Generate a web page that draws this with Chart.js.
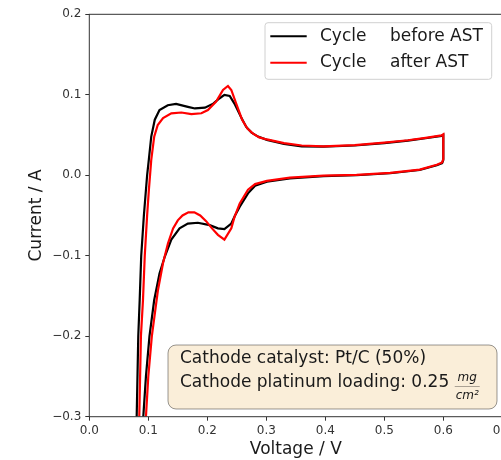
<!DOCTYPE html>
<html>
<head>
<meta charset="utf-8">
<script src="https://cdn.jsdelivr.net/npm/chart.js@4.4.0/dist/chart.umd.min.js"></script>
<style>
html, body { margin: 0; padding: 0; background: #fff; }
#wrap { width: 501px; height: 460px; overflow: hidden; }
canvas { display: block; }
</style>
</head>
<body>
<div id="wrap"><canvas id="cvChart" width="540" height="460"></canvas></div>
<script>
// cyclic voltammograms, voltage in V and current in A
var beforeV = [0.0803, 0.0830, 0.0854, 0.0880, 0.0925, 0.0980, 0.1010, 0.1050, 0.1110, 0.1190,
               0.1330, 0.1470, 0.1670, 0.1790, 0.1960, 0.2100, 0.2210, 0.2290, 0.2380, 0.2460,
               0.2580, 0.2660, 0.2750, 0.2860, 0.3010, 0.3300, 0.3600, 0.3970, 0.4500, 0.5000,
               0.5400, 0.5700, 0.5970, 0.6000, 0.6000, 0.5980, 0.5890, 0.5600, 0.5100, 0.4530,
               0.3970, 0.3400, 0.3010, 0.2810, 0.2690, 0.2550, 0.2470, 0.2407, 0.2290, 0.2180,
               0.2040, 0.1840, 0.1670, 0.1530, 0.1390, 0.1280, 0.1190, 0.1100, 0.1020, 0.0960,
               0.0915];
var beforeI = [-0.300, -0.200, -0.155, -0.100, -0.050, 0.000, 0.020, 0.048, 0.069, 0.081,
               0.087, 0.0886, 0.085, 0.083, 0.084, 0.089, 0.0957, 0.0998, 0.0985, 0.089,
               0.071, 0.060, 0.053, 0.048, 0.044, 0.039, 0.036, 0.0355, 0.037, 0.040,
               0.043, 0.046, 0.049, 0.050, 0.019, 0.015, 0.0125, 0.0065, 0.0025, 0.000,
               -0.001, -0.004, -0.008, -0.013, -0.0225, -0.039, -0.050, -0.060, -0.067, -0.066,
               -0.062, -0.059, -0.060, -0.066, -0.080, -0.101, -0.122, -0.155, -0.200, -0.250,
               -0.300];

var afterV = [0.0847, 0.0875, 0.0910, 0.0940, 0.0980, 0.1010, 0.1050, 0.1100, 0.1160, 0.1250,
              0.1390, 0.1560, 0.1730, 0.1900, 0.2010, 0.2150, 0.2266, 0.2350, 0.2407, 0.2490,
              0.2590, 0.2680, 0.2770, 0.2880, 0.3010, 0.3300, 0.3600, 0.3970, 0.4500, 0.5000,
              0.5400, 0.5700, 0.5970, 0.6000, 0.6000, 0.5980, 0.5890, 0.5600, 0.5100, 0.4530,
              0.3970, 0.3400, 0.3010, 0.2810, 0.2690, 0.2550, 0.2460, 0.2407, 0.2290, 0.2180,
              0.2080, 0.1980, 0.1880, 0.1780, 0.1680, 0.1580, 0.1500, 0.1420, 0.1334, 0.1250,
              0.1164, 0.1060, 0.1000, 0.0960];
var afterI = [-0.300, -0.200, -0.155, -0.100, -0.050, -0.018, 0.019, 0.048, 0.0625, 0.071,
              0.077, 0.078, 0.076, 0.077, 0.081, 0.0915, 0.106, 0.111, 0.106, 0.089,
              0.069, 0.058, 0.052, 0.047, 0.0445, 0.040, 0.037, 0.036, 0.0375, 0.0405,
              0.0435, 0.0465, 0.0495, 0.051, 0.020, 0.016, 0.013, 0.007, 0.003, 0.0005,
              -0.0005, -0.003, -0.007, -0.011, -0.018, -0.035, -0.052, -0.066, -0.080, -0.074,
              -0.066, -0.057, -0.050, -0.046, -0.046, -0.050, -0.056, -0.066, -0.0845, -0.109,
              -0.1425, -0.200, -0.250, -0.300];

var seriesLabels = ['Cycle before AST', 'Cycle after AST'];
var seriesColors = ['#000000', '#ff0000'];
var xTicks = [0.0, 0.1, 0.2, 0.3, 0.4, 0.5, 0.6, 0.7];
var yTicks = [-0.3, -0.2, -0.1, 0.0, 0.1, 0.2];
var noteLines = ['Cathode catalyst: Pt/C (50%)', 'Cathode platinum loading: 0.25'];

var FONT = "'DejaVu Sans', sans-serif";

function toPoints(vs, is) {
    return vs.map(function (v, k) { return {x: v, y: is[k]}; });
}

function fmtTick(value) {
    return value.toFixed(1).replace('-', '\u2212');
}

function roundRect(ctx, x, y, w, h, r) {
    ctx.beginPath();
    ctx.moveTo(x + r, y);
    ctx.lineTo(x + w - r, y);
    ctx.arcTo(x + w, y, x + w, y + r, r);
    ctx.lineTo(x + w, y + h - r);
    ctx.arcTo(x + w, y + h, x + w - r, y + h, r);
    ctx.lineTo(x + r, y + h);
    ctx.arcTo(x, y + h, x, y + h - r, r);
    ctx.lineTo(x, y + r);
    ctx.arcTo(x, y, x + r, y, r);
    ctx.closePath();
}

// axes frame, legend and the text box
var extras = {
    id: 'extras',
    afterDatasetsDraw: function (chart) {
        var ctx = chart.ctx;
        var a = chart.chartArea;
        ctx.save();

        ctx.strokeStyle = '#333';
        ctx.lineWidth = 1;
        ctx.strokeRect(a.left, a.top, a.right - a.left, a.bottom - a.top);

        // legend
        var lx = a.left + 175.7, ly = a.top + 8.4;
        roundRect(ctx, lx, ly, 226.7, 56.6, 3);
        ctx.fillStyle = 'rgba(255,255,255,0.8)';
        ctx.fill();
        ctx.strokeStyle = '#d0d0d0';
        ctx.stroke();
        ctx.font = '17px ' + FONT;
        ctx.textBaseline = 'middle';
        chart.data.datasets.forEach(function (ds, k) {
            var y = ly + 13.5 + k * 26.5;
            ctx.strokeStyle = ds.borderColor;
            ctx.lineWidth = 2;
            ctx.beginPath();
            ctx.moveTo(lx + 5.3, y);
            ctx.lineTo(lx + 41.7, y);
            ctx.stroke();
            var sp = ds.label.indexOf(' ');
            ctx.fillStyle = '#1a1a1a';
            ctx.fillText(ds.label.slice(0, sp), lx + 55, y);
            ctx.fillText(ds.label.slice(sp + 1), lx + 125, y);
        });

        // annotation box
        var bx = a.left + 78.7, by = a.top + 330.7;
        roundRect(ctx, bx, by, 329, 64, 8);
        ctx.fillStyle = 'rgba(245,222,179,0.5)';
        ctx.fill();
        ctx.strokeStyle = 'rgba(0,0,0,0.4)';
        ctx.lineWidth = 1;
        ctx.stroke();
        ctx.fillStyle = '#1a1a1a';
        ctx.font = '17px ' + FONT;
        ctx.textBaseline = 'middle';
        ctx.fillText(noteLines[0], bx + 12, by + 13.8);
        ctx.fillText(noteLines[1], bx + 12, by + 38);
        var fx = bx + 12 + ctx.measureText(noteLines[1]).width + 18;
        ctx.font = 'italic 12px ' + FONT;
        ctx.textAlign = 'center';
        ctx.textBaseline = 'alphabetic';
        ctx.fillText('mg', fx, by + 35.5);
        ctx.fillText('cm\u00B2', fx, by + 54);
        ctx.lineWidth = 0.8;
        ctx.beginPath();
        ctx.moveTo(fx - 12.5, by + 41.5);
        ctx.lineTo(fx + 12.5, by + 41.5);
        ctx.stroke();

        ctx.restore();
    }
};

var datasets = [
    {label: seriesLabels[0], data: toPoints(beforeV, beforeI), borderColor: seriesColors[0], order: 1},
    {label: seriesLabels[1], data: toPoints(afterV, afterI), borderColor: seriesColors[1], order: 0}
];
datasets.forEach(function (ds) {
    ds.showLine = true;
    ds.borderWidth = 2.2;
    ds.pointRadius = 0;
    ds.tension = 0;
    ds.fill = false;
});

var ctx = document.getElementById('cvChart').getContext('2d');
var cvChart = new Chart(ctx, {
    type: 'scatter',
    data: {datasets: datasets},
    options: {
        responsive: false,
        animation: false,
        events: [],
        layout: {padding: {top: 14.3, left: 0, right: 37.7, bottom: 0}},
        plugins: {legend: {display: false}, tooltip: {enabled: false}},
        scales: {
            x: {
                type: 'linear', min: 0, max: 0.7,
                afterBuildTicks: function (axis) { axis.ticks = xTicks.map(function (v) { return {value: v}; }); },
                afterFit: function (axis) { axis.height = 43.3; },
                border: {display: false},
                grid: {drawOnChartArea: false, drawTicks: true, tickLength: 4, color: '#333'},
                ticks: {callback: fmtTick, padding: 3, color: '#333', font: {family: FONT, size: 12}, maxRotation: 0, autoSkip: false},
                title: {display: true, text: 'Voltage / V', color: '#1a1a1a', font: {family: FONT, size: 17}, padding: {top: 0, bottom: 0}}
            },
            y: {
                type: 'linear', min: -0.3, max: 0.2,
                afterBuildTicks: function (axis) { axis.ticks = yTicks.map(function (v) { return {value: v}; }); },
                afterFit: function (axis) { axis.width = 89.3; },
                border: {display: false},
                grid: {drawOnChartArea: false, drawTicks: true, tickLength: 4, color: '#333'},
                ticks: {callback: fmtTick, padding: 4, color: '#333', font: {family: FONT, size: 12}, autoSkip: false},
                title: {display: true, text: 'Current / A', color: '#1a1a1a', font: {family: FONT, size: 17}, padding: {top: 26.5, bottom: 0}}
            }
        }
    },
    plugins: [extras]
});
</script>
</body>
</html>
